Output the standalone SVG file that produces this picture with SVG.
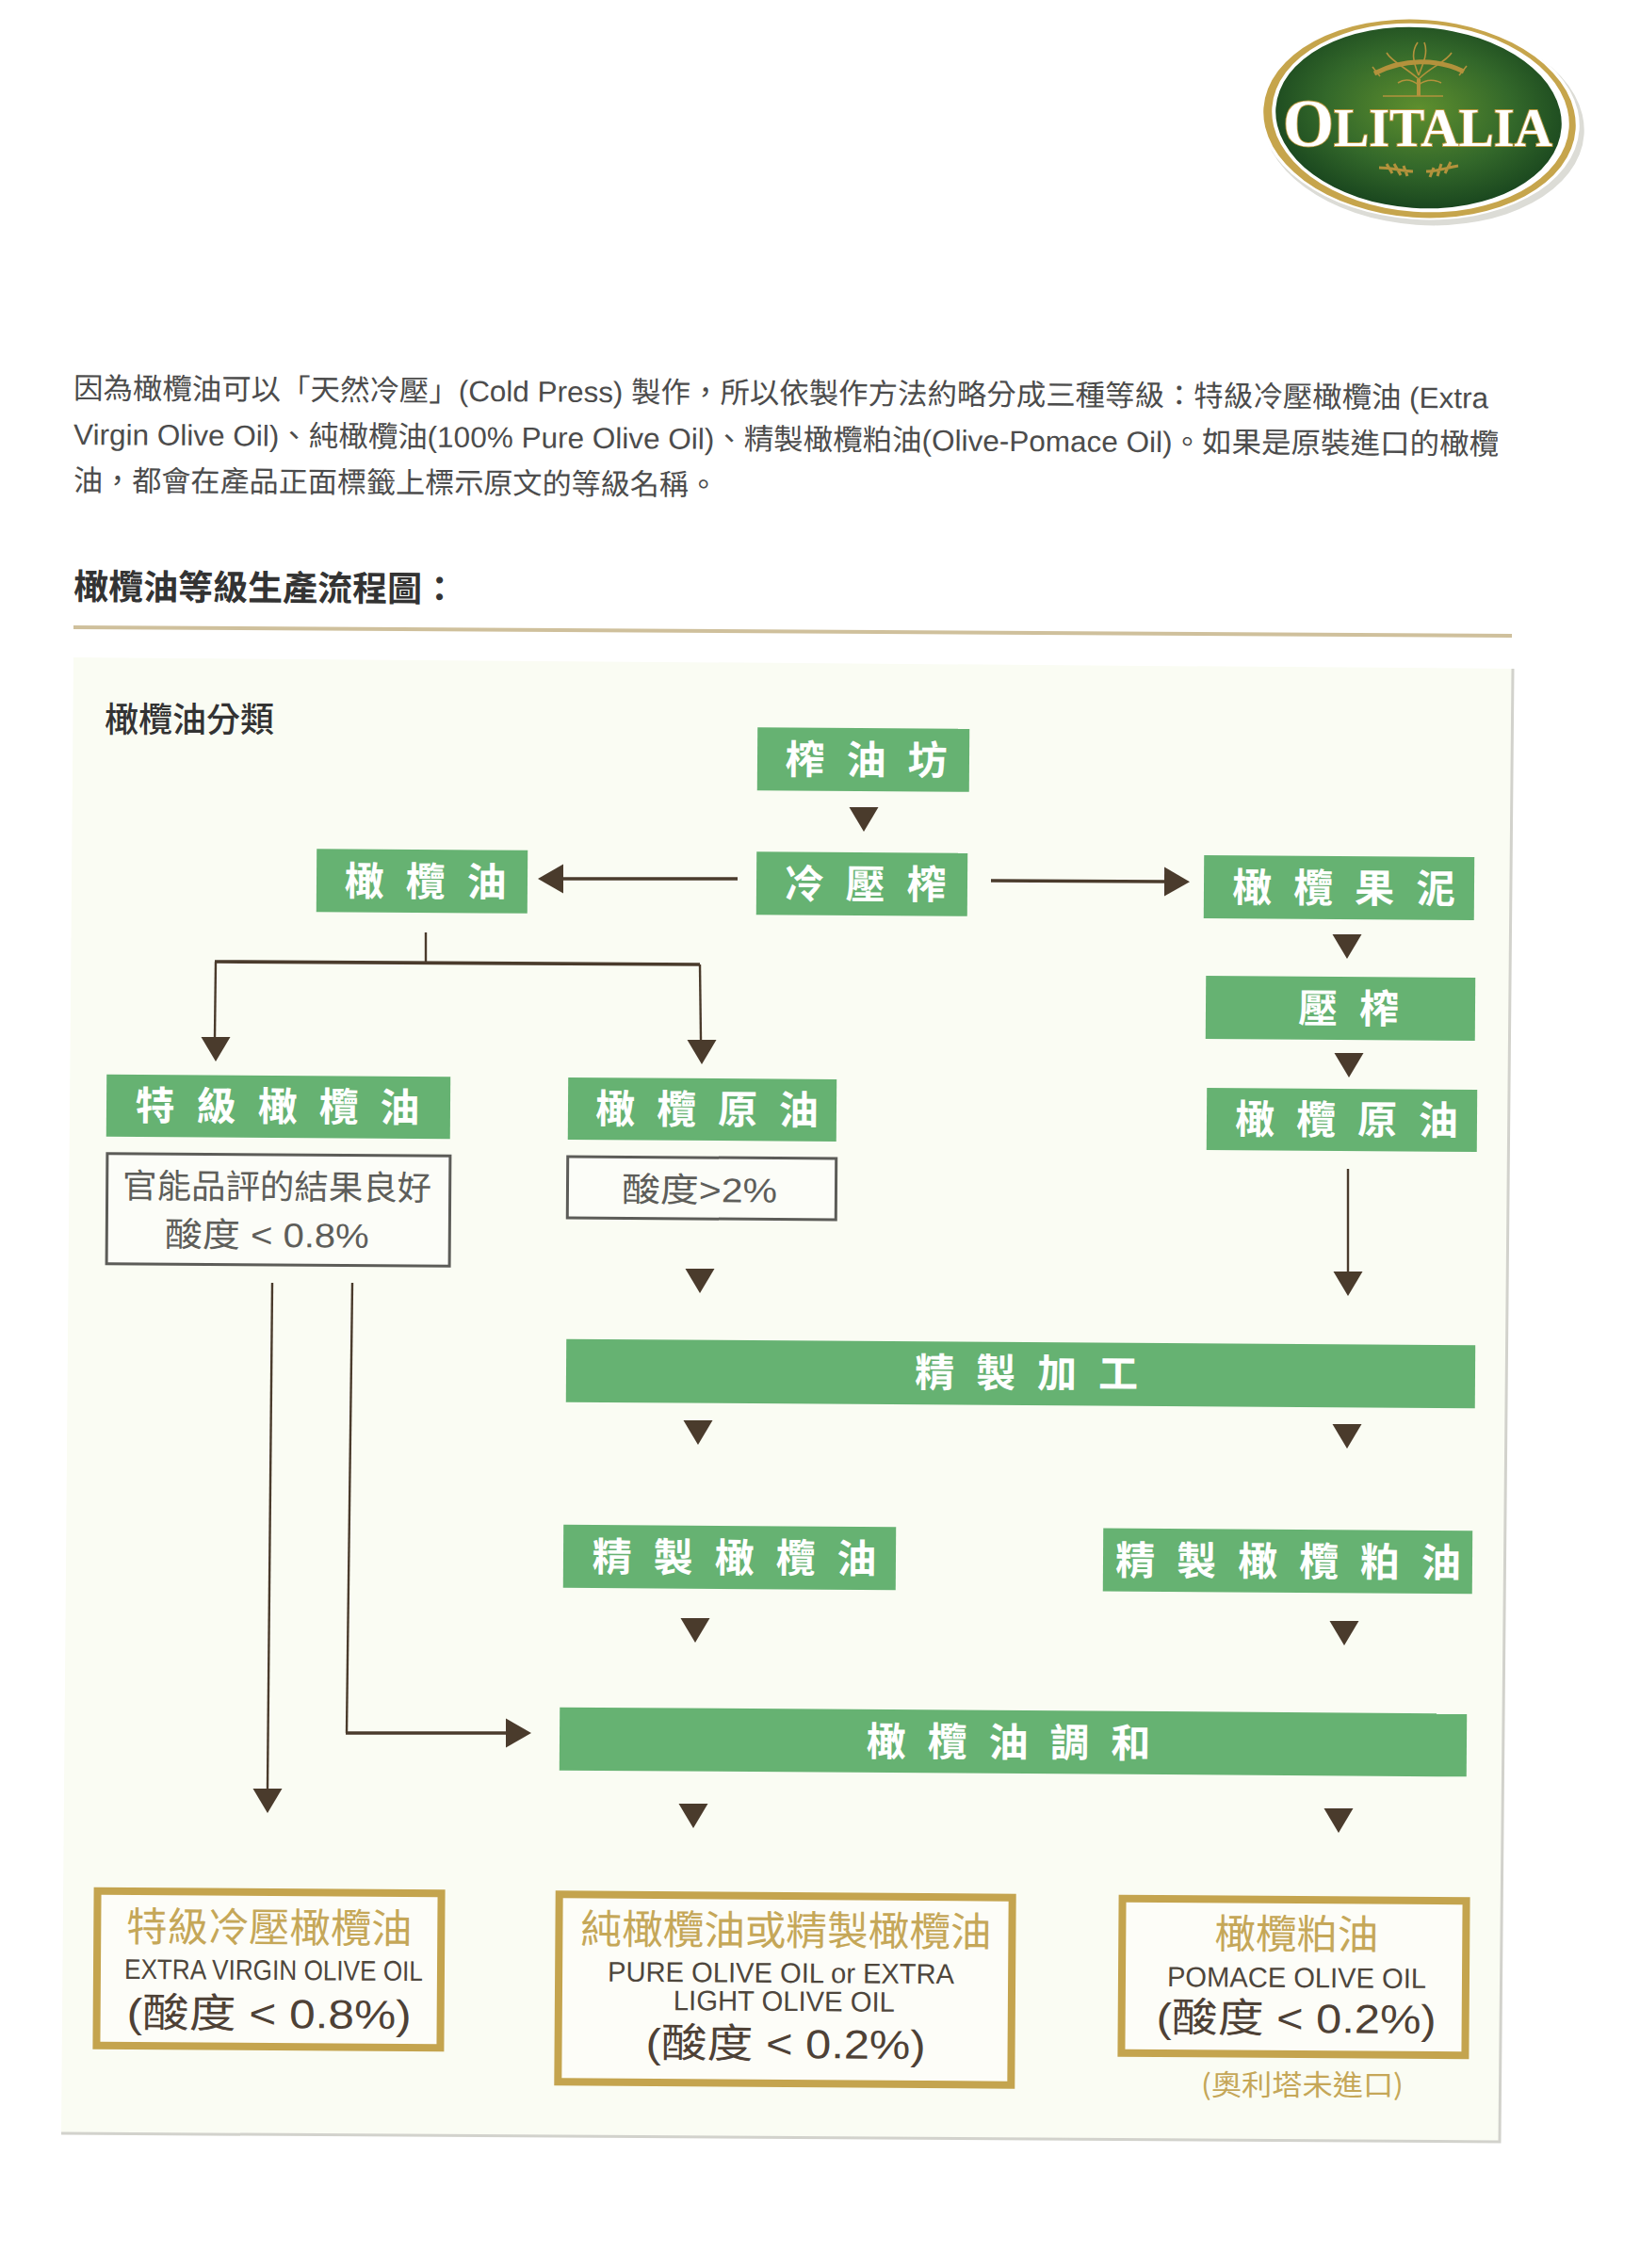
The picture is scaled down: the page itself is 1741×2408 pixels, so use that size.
<svg xmlns="http://www.w3.org/2000/svg" width="1741" height="2408" viewBox="0 0 1741 2408">
<defs>
<style>
text{font-family:"Liberation Sans","Noto Sans CJK TC",sans-serif}
.r{transform-box:fill-box;transform-origin:center;transform:rotate(.4deg)}
.g{fill:#66b272}
.gt{font-family:"Noto Sans CJK TC",sans-serif;font-size:42px;font-weight:700;fill:#fff;letter-spacing:23px;text-anchor:middle}
.body{font-size:31px;fill:#4c4c4c}
.ln{stroke:#4a3b2c;fill:none;stroke-width:2.4}
.lh{stroke:#4a3b2c;fill:none;stroke-width:3.6}
.wb{fill:#fcfdf8;stroke:#5c5c58;stroke-width:3}
.gb{fill:#fdfdf8;stroke:#c4a44e;stroke-width:8}
.gy{font-size:36px;fill:#5e5e5a}
.au{font-family:"Noto Sans CJK TC",sans-serif;font-size:43px;fill:#c5a758}
.en{font-size:30px;fill:#4e463c}
.ac{font-size:43px;fill:#4e4136}
.tree{stroke:#b3923c;fill:none;stroke-width:1.6}
</style>
<path id="d" d="M-15.5 0H15.5L0 26Z" fill="#4a3b2c"/>
<marker id="mh" markerUnits="userSpaceOnUse" markerWidth="28" markerHeight="32" refX="1" refY="16" orient="auto"><path d="M0 .5V31.5L27 16Z" fill="#4a3b2c"/></marker>
<radialGradient id="lg" cx=".5" cy=".45" r=".6"><stop offset="0" stop-color="#5e8f2e"/><stop offset=".55" stop-color="#33682a"/><stop offset="1" stop-color="#143f1c"/></radialGradient>
</defs>
<rect width="1741" height="2408" fill="#fff"/>

<g id="logo">
<ellipse cx="1511" cy="131" rx="171" ry="108" fill="#dcdcd6" transform="rotate(4 1511 131)"/>
<ellipse cx="1507" cy="126" rx="170" ry="107" fill="#fff" transform="rotate(4 1507 126)"/>
<ellipse cx="1507" cy="126" rx="166" ry="105" fill="#c6a54c" transform="rotate(4 1507 126)"/>
<ellipse cx="1508" cy="125" rx="158" ry="100" fill="#fff" transform="rotate(4 1508 125)"/>
<ellipse cx="1506" cy="125" rx="152" ry="96" fill="url(#lg)" transform="rotate(4 1506 125)"/>
<path class="tree" style="stroke-width:4" d="M1506 84V102"/>
<path class="tree" d="M1468 102H1532M1506 84C1490 70 1478 66 1472 56M1506 84C1520 70 1535 66 1541 56M1506 80C1500 65 1498 55 1505 45M1506 80C1512 65 1516 55 1512 45M1484 88C1490 84 1498 84 1506 90M1530 88C1522 84 1514 84 1506 90"/>
<path class="tree" style="stroke-width:5" d="M1459 78C1490 62 1525 62 1554 76"/>
<path class="tree" d="M1465 81L1457 71M1549 80L1557 70"/>
<path class="tree" style="stroke-width:3" d="M1464 178C1478 178 1490 182 1500 182M1514 182C1526 182 1536 178 1548 176M1472 174L1478 184M1480 174L1487 186M1490 176L1494 187M1540 172L1534 184M1530 174L1526 187M1522 178L1518 188"/>
<text x="1362" y="155" textLength="286" lengthAdjust="spacingAndGlyphs" style="font-family:'Liberation Serif',serif;font-weight:700;font-size:58px;fill:#fff;stroke:#b8973e;stroke-width:2;paint-order:stroke"><tspan font-size="72">O</tspan>LITALIA</text>
</g>

<g id="intro">
<text class="body" x="78" y="423" textLength="1502" lengthAdjust="spacingAndGlyphs" transform="rotate(.4 78 423)">因為橄欖油可以「天然冷壓」(Cold Press) 製作，所以依製作方法約略分成三種等級：特級冷壓橄欖油 (Extra</text>
<text class="body" x="78" y="472" textLength="1513" lengthAdjust="spacingAndGlyphs" transform="rotate(.4 78 472)">Virgin Olive Oil)、純橄欖油(100% Pure Olive Oil)、精製橄欖粕油(Olive-Pomace Oil)。如果是原裝進口的橄欖</text>
<text class="body" x="78" y="521" textLength="684" lengthAdjust="spacingAndGlyphs" transform="rotate(.4 78 521)">油，都會在產品正面標籤上標示原文的等級名稱。</text>
<text x="78" y="636" style="font-family:'Noto Sans CJK TC',sans-serif;font-size:37px;font-weight:700;fill:#333" transform="rotate(.4 78 636)">橄欖油等級生產流程圖：</text>
<path d="M78 666L1605 675" stroke="#cfc09c" stroke-width="4" fill="none"/>
</g>

<g id="panel">
<path d="M78 698L1606 710L1592 2274L65 2265Z" fill="#fafcf3"/>
<path d="M1606 710L1592 2274L65 2265" fill="none" stroke="#d2d2cc" stroke-width="3"/>
<text x="111" y="777" style="font-family:'Noto Sans CJK TC',sans-serif;font-size:36px;font-weight:500;fill:#333">橄欖油分類</text>
</g>

<g id="connectors">
<use href="#d" x="917" y="857"/>
<path class="lh" d="M783 933L597 933" marker-end="url(#mh)"/>
<path class="lh" d="M1052 935L1237 936" marker-end="url(#mh)"/>
<use href="#d" x="1430" y="992"/>
<use href="#d" x="1432" y="1118"/>
<path class="ln" d="M452 990V1022"/>
<path class="lh" d="M228 1021L743 1024"/>
<path class="ln" d="M229 1021L228 1101"/>
<path class="ln" d="M743 1024L744 1104"/>
<use href="#d" x="229" y="1101"/>
<use href="#d" x="745" y="1104"/>
<use href="#d" x="743" y="1347"/>
<path class="ln" d="M1431 1241V1350"/>
<use href="#d" x="1431" y="1350"/>
<use href="#d" x="741" y="1508"/>
<use href="#d" x="1430" y="1512"/>
<use href="#d" x="738" y="1718"/>
<use href="#d" x="1427" y="1721"/>
<use href="#d" x="736" y="1915"/>
<use href="#d" x="1421" y="1920"/>
<path class="ln" d="M289 1362L284 1899"/>
<use href="#d" x="284" y="1899"/>
<path class="ln" d="M374 1362L368 1840"/>
<path class="lh" d="M367 1840H538" marker-end="url(#mh)"/>
</g>

<g id="n-zhayoufang" class="r"><rect class="g" x="804" y="773" width="225" height="67"/><text class="gt" x="931" y="822">榨油坊</text></g>
<g id="n-lengyazha" class="r"><rect class="g" x="803" y="905" width="224" height="67"/><text class="gt" x="930" y="954">冷壓榨</text></g>
<g id="n-ganlanyou" class="r"><rect class="g" x="336" y="902" width="224" height="67"/><text class="gt" x="463" y="951">橄欖油</text></g>
<g id="n-guoni" class="r"><rect class="g" x="1278" y="909" width="287" height="67"/><text class="gt" x="1438" y="958">橄欖果泥</text></g>
<g id="n-yazha" class="r"><rect class="g" x="1280" y="1037" width="286" height="67"/><text class="gt" x="1443" y="1086">壓榨</text></g>
<g id="n-teji" class="r"><rect class="g" x="113" y="1142" width="365" height="66"/><text class="gt" x="306" y="1190">特級橄欖油</text></g>
<g id="n-yuanyou1" class="r"><rect class="g" x="603" y="1145" width="285" height="66"/><text class="gt" x="762" y="1193">橄欖原油</text></g>
<g id="n-yuanyou2" class="r"><rect class="g" x="1281" y="1156" width="287" height="66"/><text class="gt" x="1441" y="1204">橄欖原油</text></g>
<g id="n-guanneng" class="r"><rect class="wb" x="113.500" y="1226" width="364" height="117"/><text class="gy" x="130" y="1273" textLength="328" lengthAdjust="spacingAndGlyphs">官能品評的結果良好</text><text class="gy" x="175" y="1324" textLength="217" lengthAdjust="spacingAndGlyphs">酸度 &lt; 0.8%</text></g>
<g id="n-suandu" class="r"><rect class="wb" x="602.500" y="1229" width="285" height="65"/><text class="gy" x="660" y="1276" textLength="165" lengthAdjust="spacingAndGlyphs">酸度&gt;2%</text></g>
<g id="n-jingzhi" class="r"><rect class="g" x="601" y="1425" width="965" height="67"/><text class="gt" x="1101" y="1473">精製加工</text></g>
<g id="n-jingyou" class="r"><rect class="g" x="598" y="1620" width="353" height="67"/><text class="gt" x="791" y="1669">精製橄欖油</text></g>
<g id="n-poyou" class="r"><rect class="g" x="1171" y="1624" width="392" height="67"/><text class="gt" x="1379" y="1673">精製橄欖粕油</text></g>
<g id="n-tiaohe" class="r"><rect class="g" x="594" y="1816" width="963" height="67"/><text class="gt" x="1082" y="1865">橄欖油調和</text></g>

<g id="n-result1" class="r"><rect class="gb" x="103" y="2009" width="365" height="164"/><text class="au" x="134" y="2062" textLength="303" lengthAdjust="spacingAndGlyphs">特級冷壓橄欖油</text><text class="en" x="132" y="2102" textLength="317" lengthAdjust="spacingAndGlyphs">EXTRA VIRGIN OLIVE OIL</text><text class="ac" x="135" y="2153" textLength="302" lengthAdjust="spacingAndGlyphs">(酸度 &lt; 0.8%)</text></g>
<g id="n-result2" class="r"><rect class="gb" x="593" y="2013" width="481" height="199"/><text class="au" x="616" y="2065" textLength="436" lengthAdjust="spacingAndGlyphs">純橄欖油或精製橄欖油</text><text class="en" x="645" y="2105" textLength="368" lengthAdjust="spacingAndGlyphs">PURE OLIVE OIL or EXTRA</text><text class="en" x="715" y="2135" textLength="235" lengthAdjust="spacingAndGlyphs">LIGHT OLIVE OIL</text><text class="ac" x="686" y="2185" textLength="297" lengthAdjust="spacingAndGlyphs">(酸度 &lt; 0.2%)</text></g>
<g id="n-result3" class="r"><rect class="gb" x="1191" y="2017" width="365" height="164"/><text class="au" x="1289" y="2069" textLength="174" lengthAdjust="spacingAndGlyphs">橄欖粕油</text><text class="en" x="1239" y="2110" textLength="275" lengthAdjust="spacingAndGlyphs">POMACE OLIVE OIL</text><text class="ac" x="1228" y="2158" textLength="297" lengthAdjust="spacingAndGlyphs">(酸度 &lt; 0.2%)</text></g>
<text id="note" x="1275" y="2224" textLength="215" lengthAdjust="spacingAndGlyphs" style="font-family:'Noto Sans CJK TC',sans-serif;font-size:30px;fill:#c5a758">(奧利塔未進口)</text>
</svg>
